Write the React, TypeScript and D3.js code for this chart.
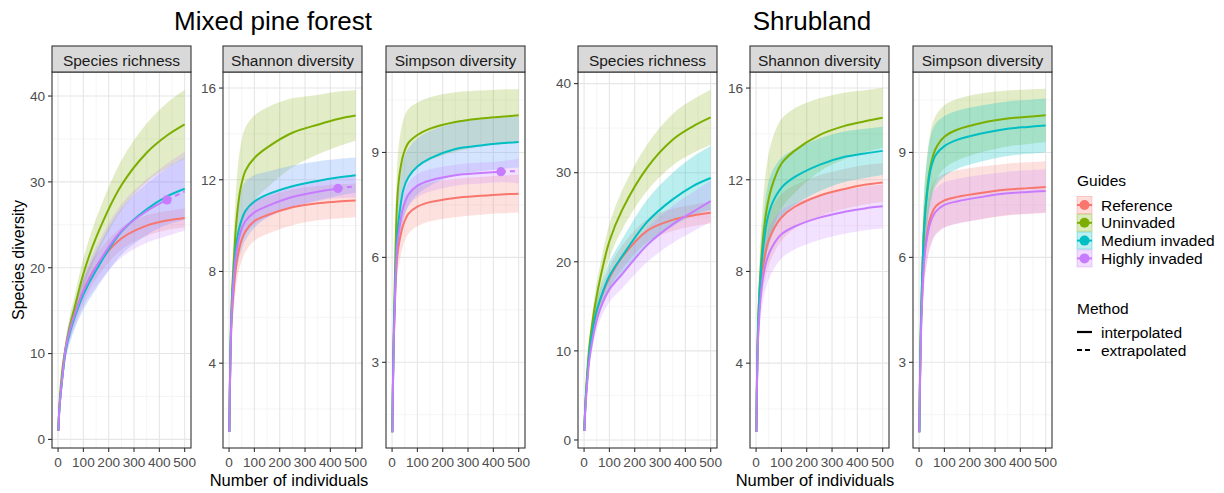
import React from "react";
import * as d3 from "d3";

// rarefaction sample sizes (number of individuals)
const sampleSizes = [1, 5, 10, 20, 30, 45, 65, 100, 150, 250, 350, 430, 500];
const guides = ["Reference", "Uninvaded", "Medium invaded", "Highly invaded"];
const guideColors = ["#F8766D", "#7CAE00", "#00BFC4", "#C77CFF"];
// ribbon fills differ slightly between the two habitats in the original figure
const pineRibbonColors = ["#F8766D", "#7CAE00", "#619CFF", "#C77CFF"];
const shrubRibbonColors = ["#F8766D", "#7CAE00", "#00BFC4", "#C77CFF"];
const methods = ["interpolated", "extrapolated"];
const indices = ["Species richness", "Shannon diversity", "Simpson diversity"];
const habitats = ["Mixed pine forest", "Shrubland"];

// observed sample size per guide, null when it lies beyond 500
const pineObserved = [null, null, null, 430];
const shrubObserved = [null, null, null, null];

// diversity estimates, one row per guide (Reference, Uninvaded, Medium, Highly)
const pineRichness = [
  [1, 3.5, 5.3, 8.2, 10.6, 12.6, 14.5, 17.3, 20.1, 23.4, 24.9, 25.5, 25.8],
  [1, 3.8, 6.0, 8.9, 10.7, 13.0, 15.3, 19.3, 23.5, 29.6, 33.4, 35.4, 36.7],
  [1, 3.4, 5.2, 8.0, 10.3, 12.3, 14.2, 16.9, 19.7, 24.2, 26.8, 28.3, 29.2],
  [1, 3.5, 5.3, 8.2, 10.6, 12.6, 14.5, 17.3, 20.1, 24.3, 26.6, 27.9, 28.9],
];
const pineRichnessCI = [
  [0, 0.3, 0.5, 0.7, 0.8, 1.0, 1.1, 1.3, 1.4, 1.3, 1.2, 1.1, 1.1],
  [0, 0.3, 0.5, 0.8, 1.0, 1.2, 1.4, 1.8, 2.2, 2.9, 3.4, 3.8, 4.0],
  [0, 0.3, 0.5, 0.8, 1.0, 1.2, 1.4, 1.8, 2.2, 2.7, 3.0, 3.3, 3.6],
  [0, 0.3, 0.5, 0.8, 1.0, 1.2, 1.4, 1.8, 2.3, 3.1, 3.7, 4.2, 4.6],
];
const pineShannon = [
  [1, 4.0, 5.8, 7.4, 8.4, 9.2, 9.75, 10.2, 10.45, 10.8, 10.98, 11.05, 11.1],
  [1, 4.3, 6.6, 8.7, 10.3, 11.6, 12.4, 12.95, 13.4, 14.05, 14.4, 14.65, 14.8],
  [1, 4.2, 6.3, 8.2, 9.3, 10.1, 10.65, 11.05, 11.35, 11.72, 11.95, 12.1, 12.2],
  [1, 4.1, 6.1, 7.9, 8.9, 9.7, 10.2, 10.58, 10.85, 11.25, 11.48, 11.62, 11.72],
];
const pineShannonCI = [
  [0, 0.5, 0.7, 0.85, 0.88, 0.9, 0.89, 0.86, 0.82, 0.78, 0.75, 0.74, 0.74],
  [0, 0.6, 1.0, 1.4, 1.65, 1.85, 1.9, 1.85, 1.75, 1.5, 1.3, 1.2, 1.1],
  [0, 0.5, 0.8, 1.1, 1.25, 1.3, 1.28, 1.15, 1.0, 0.9, 0.85, 0.8, 0.77],
  [0, 0.3, 0.4, 0.5, 0.53, 0.55, 0.55, 0.53, 0.5, 0.45, 0.42, 0.42, 0.5],
];
const pineSimpson = [
  [1, 3.0, 4.4, 6.0, 6.5, 6.95, 7.25, 7.45, 7.58, 7.7, 7.76, 7.8, 7.82],
  [1, 3.2, 5.0, 7.6, 8.4, 8.95, 9.28, 9.5, 9.68, 9.87, 9.97, 10.02, 10.06],
  [1, 3.1, 4.7, 6.6, 7.3, 7.95, 8.3, 8.6, 8.83, 9.1, 9.2, 9.26, 9.3],
  [1, 3.0, 4.5, 6.3, 6.9, 7.45, 7.8, 8.05, 8.2, 8.35, 8.41, 8.45, 8.47],
];
const pineSimpsonCI = [
  [0, 0.4, 0.55, 0.6, 0.6, 0.58, 0.57, 0.56, 0.55, 0.55, 0.54, 0.54, 0.54],
  [0, 0.5, 0.8, 1.0, 1.0, 1.0, 0.97, 0.93, 0.9, 0.85, 0.8, 0.78, 0.75],
  [0, 0.5, 0.7, 0.85, 0.85, 0.85, 0.82, 0.8, 0.78, 0.75, 0.74, 0.73, 0.73],
  [0, 0.3, 0.4, 0.4, 0.38, 0.35, 0.34, 0.33, 0.32, 0.3, 0.3, 0.3, 0.35],
];
const shrubRichness = [
  [1, 3.8, 6.0, 9.5, 11.6, 13.9, 15.8, 18.2, 20.5, 23.5, 24.7, 25.2, 25.5],
  [1, 4.0, 6.5, 10.3, 12.6, 15.4, 18.3, 22.3, 25.8, 30.6, 33.7, 35.2, 36.2],
  [1, 3.8, 6.0, 9.6, 11.7, 14.0, 15.9, 18.4, 20.6, 24.5, 27.0, 28.5, 29.4],
  [1, 3.5, 5.5, 8.8, 10.7, 12.9, 14.8, 16.9, 18.6, 21.9, 24.2, 25.6, 26.8],
];
const shrubRichnessCI = [
  [0, 0.3, 0.5, 0.7, 0.8, 0.95, 1.05, 1.2, 1.3, 1.3, 1.25, 1.2, 1.2],
  [0, 0.3, 0.6, 0.9, 1.1, 1.4, 1.6, 1.9, 2.2, 2.6, 2.9, 3.0, 3.1],
  [0, 0.3, 0.5, 0.8, 0.95, 1.15, 1.35, 1.6, 1.9, 2.5, 3.0, 3.3, 3.6],
  [0, 0.3, 0.5, 0.8, 0.9, 1.05, 1.2, 1.4, 1.6, 1.9, 2.1, 2.2, 2.3],
];
const shrubShannon = [
  [1, 4.0, 5.9, 7.6, 8.4, 9.2, 9.75, 10.35, 10.8, 11.3, 11.6, 11.78, 11.88],
  [1, 4.3, 6.4, 8.4, 9.7, 10.9, 11.8, 12.7, 13.25, 13.95, 14.35, 14.55, 14.7],
  [1, 4.2, 6.2, 8.1, 9.2, 10.3, 11.0, 11.65, 12.1, 12.65, 13.0, 13.15, 13.26],
  [1, 3.9, 5.6, 7.1, 7.9, 8.6, 9.1, 9.62, 9.95, 10.35, 10.6, 10.75, 10.84],
];
const shrubShannonCI = [
  [0, 0.5, 0.8, 1.0, 1.05, 1.1, 1.08, 1.02, 0.95, 0.9, 0.87, 0.86, 0.85],
  [0, 0.7, 1.1, 1.5, 1.75, 1.95, 2.0, 1.95, 1.85, 1.6, 1.45, 1.35, 1.3],
  [0, 0.6, 0.9, 1.2, 1.3, 1.4, 1.4, 1.3, 1.22, 1.15, 1.1, 1.07, 1.05],
  [0, 0.5, 0.8, 1.0, 1.05, 1.1, 1.1, 1.05, 1.0, 0.98, 0.96, 0.95, 0.95],
];
const shrubSimpson = [
  [1, 3.0, 4.5, 6.0, 6.6, 7.15, 7.45, 7.63, 7.73, 7.85, 7.94, 7.98, 8.01],
  [1, 3.2, 4.9, 6.9, 7.8, 8.6, 9.1, 9.45, 9.65, 9.85, 9.97, 10.02, 10.06],
  [1, 3.2, 4.9, 6.8, 7.7, 8.5, 8.92, 9.18, 9.36, 9.55, 9.68, 9.73, 9.77],
  [1, 3.0, 4.4, 5.9, 6.5, 7.0, 7.3, 7.5, 7.6, 7.73, 7.83, 7.87, 7.9],
];
const shrubSimpsonCI = [
  [0, 0.5, 0.7, 0.8, 0.8, 0.8, 0.78, 0.77, 0.76, 0.75, 0.74, 0.74, 0.74],
  [0, 0.5, 0.8, 1.0, 1.0, 0.98, 0.94, 0.9, 0.88, 0.84, 0.8, 0.78, 0.76],
  [0, 0.5, 0.8, 1.0, 0.98, 0.94, 0.9, 0.86, 0.83, 0.8, 0.78, 0.77, 0.77],
  [0, 0.45, 0.6, 0.7, 0.7, 0.7, 0.67, 0.65, 0.64, 0.63, 0.62, 0.62, 0.62],
];

const xTicks = [0, 100, 200, 300, 400, 500];
const richnessTicks = [0, 10, 20, 30, 40];
const shannonTicks = [4, 8, 12, 16];
const simpsonTicks = [3, 6, 9];

const FONT = "Liberation Sans, Arial, Helvetica, sans-serif";
const W = 1224;
const H = 493;
const panelTop = 72;
const panelBottom = 448;
const stripTop = 46;
const panelW = 139;
const panelLefts = [52, 223, 386, 578, 750, 913];

const panels = [
  { left: panelLefts[0], title: indices[0], mean: pineRichness, ci: pineRichnessCI, obs: pineObserved, fills: pineRibbonColors, domain: [-1, 42.8], ticks: richnessTicks },
  { left: panelLefts[1], title: indices[1], mean: pineShannon, ci: pineShannonCI, obs: pineObserved, fills: pineRibbonColors, domain: [0.3, 16.7], ticks: shannonTicks },
  { left: panelLefts[2], title: indices[2], mean: pineSimpson, ci: pineSimpsonCI, obs: pineObserved, fills: pineRibbonColors, domain: [0.55, 11.3], ticks: simpsonTicks },
  { left: panelLefts[3], title: indices[0], mean: shrubRichness, ci: shrubRichnessCI, obs: shrubObserved, fills: shrubRibbonColors, domain: [-0.9, 41.3], ticks: richnessTicks },
  { left: panelLefts[4], title: indices[1], mean: shrubShannon, ci: shrubShannonCI, obs: shrubObserved, fills: shrubRibbonColors, domain: [0.3, 16.7], ticks: shannonTicks },
  { left: panelLefts[5], title: indices[2], mean: shrubSimpson, ci: shrubSimpsonCI, obs: shrubObserved, fills: shrubRibbonColors, domain: [0.55, 11.3], ticks: simpsonTicks },
];

function minorTicks(ticks: number[], domain: number[]) {
  const step = ticks[1] - ticks[0];
  const out = ticks.map((t) => t - step / 2);
  out.push(ticks[ticks.length - 1] + step / 2);
  return out.filter((t) => t > domain[0] && t < domain[1]);
}

const smooth = d3.curveCatmullRom.alpha(0.5);

function Panel({ p, idx }: { p: any; idx: number }) {
  const x = d3.scaleLinear().domain([-24, 525]).range([p.left, p.left + panelW]);
  const y = d3.scaleLinear().domain(p.domain).range([panelBottom, panelTop]);
  const xMinor = minorTicks(xTicks, [-24, 525]);
  const yMinor = minorTicks(p.ticks, p.domain);

  const line = d3
    .line<[number, number]>()
    .x((d) => x(d[0]))
    .y((d) => y(d[1]))
    .curve(smooth);
  const area = d3
    .area<[number, number, number]>()
    .x((d) => x(d[0]))
    .y0((d) => y(d[1] - d[2]))
    .y1((d) => y(d[1] + d[2]))
    .curve(smooth);

  const clipId = `clip-${idx}`;

  return (
    <g>
      <defs>
        <clipPath id={clipId}>
          <rect x={p.left} y={panelTop} width={panelW} height={panelBottom - panelTop} />
        </clipPath>
      </defs>
      <rect x={p.left} y={panelTop} width={panelW} height={panelBottom - panelTop} fill="white" />
      {/* grid */}
      {yMinor.map((t) => (
        <line key={"ym" + t} x1={p.left} x2={p.left + panelW} y1={y(t)} y2={y(t)} stroke="#F2F2F2" strokeWidth={0.8} />
      ))}
      {xMinor.map((t) => (
        <line key={"xm" + t} x1={x(t)} x2={x(t)} y1={panelTop} y2={panelBottom} stroke="#F2F2F2" strokeWidth={0.8} />
      ))}
      {p.ticks.map((t: number) => (
        <line key={"yg" + t} x1={p.left} x2={p.left + panelW} y1={y(t)} y2={y(t)} stroke="#E6E6E6" strokeWidth={1.1} />
      ))}
      {xTicks.map((t) => (
        <line key={"xg" + t} x1={x(t)} x2={x(t)} y1={panelTop} y2={panelBottom} stroke="#E6E6E6" strokeWidth={1.1} />
      ))}
      <g clipPath={`url(#${clipId})`}>
        {/* ribbons */}
        {guides.map((g, gi) => {
          const pts = sampleSizes.map((n, i) => [n, p.mean[gi][i], p.ci[gi][i]] as [number, number, number]);
          return <path key={"rb" + g} d={area(pts) || ""} fill={p.fills[gi]} fillOpacity={gi === 2 ? 0.27 : 0.22} />;
        })}
        {/* curves */}
        {guides.map((g, gi) => {
          const pts = sampleSizes.map((n, i) => [n, p.mean[gi][i]] as [number, number]);
          const obs = p.obs[gi];
          const solid = obs == null ? pts : pts.filter((d) => d[0] <= obs);
          const dashed = obs == null ? [] : pts.filter((d) => d[0] >= obs);
          return (
            <g key={"ln" + g}>
              <path d={line(solid) || ""} fill="none" stroke={guideColors[gi]} strokeWidth={2} />
              {dashed.length > 1 && (
                <path d={line(dashed) || ""} fill="none" stroke={guideColors[gi]} strokeWidth={2} strokeDasharray="5,4" />
              )}
            </g>
          );
        })}
        {guides.map((g, gi) => {
          const obs = p.obs[gi];
          if (obs == null) return null;
          const i = sampleSizes.indexOf(obs);
          return <circle key={"pt" + g} cx={x(obs)} cy={y(p.mean[gi][i])} r={4.6} fill={guideColors[gi]} />;
        })}
      </g>
      <rect x={p.left} y={panelTop} width={panelW} height={panelBottom - panelTop} fill="none" stroke="#333333" strokeWidth={1.1} />
      {/* strip */}
      <rect x={p.left} y={stripTop} width={panelW} height={panelTop - stripTop} fill="#D9D9D9" stroke="#333333" strokeWidth={1.1} />
      <text x={p.left + panelW / 2} y={66} textAnchor="middle" fontSize={15.5} fill="#1A1A1A" fontFamily={FONT}>
        {p.title}
      </text>
      {/* y axis */}
      {p.ticks.map((t: number) => (
        <g key={"yt" + t}>
          <line x1={p.left - 4} x2={p.left} y1={y(t)} y2={y(t)} stroke="#333333" strokeWidth={1.1} />
          <text x={p.left - 7} y={y(t) + 4.8} textAnchor="end" fontSize={13.6} fill="#4D4D4D" fontFamily={FONT}>
            {t}
          </text>
        </g>
      ))}
      {/* x axis */}
      {xTicks.map((t) => (
        <g key={"xt" + t}>
          <line x1={x(t)} x2={x(t)} y1={panelBottom} y2={panelBottom + 4} stroke="#333333" strokeWidth={1.1} />
          <text x={x(t)} y={467} textAnchor="middle" fontSize={13.6} fill="#4D4D4D" fontFamily={FONT}>
            {t}
          </text>
        </g>
      ))}
    </g>
  );
}

function Legend() {
  const lx = 1077;
  const keyW = 15;
  const rowH = 17.8;
  const firstRow = 205;
  return (
    <g fontFamily={FONT}>
      <text x={lx} y={186} fontSize={15.5} fill="#000">Guides</text>
      {guides.map((g, gi) => {
        const cy = firstRow + gi * rowH;
        return (
          <g key={g}>
            <rect x={lx} y={cy - keyW / 2 - 1} width={keyW} height={keyW + 2} fill={guideColors[gi]} fillOpacity={0.25} stroke={guideColors[gi]} strokeOpacity={0.35} strokeWidth={1} />
            <line x1={lx} x2={lx + keyW} y1={cy} y2={cy} stroke={guideColors[gi]} strokeWidth={2} />
            <circle cx={lx + keyW / 2} cy={cy} r={5} fill={guideColors[gi]} />
            <text x={lx + 24} y={cy + 5.5} fontSize={15.5} fill="#000">{g}</text>
          </g>
        );
      })}
      <text x={lx} y={314} fontSize={15.5} fill="#000">Method</text>
      {methods.map((m, mi) => {
        const cy = 332 + mi * 18;
        return (
          <g key={m}>
            <line x1={lx} x2={lx + keyW} y1={cy} y2={cy} stroke="#000" strokeWidth={2.2} strokeDasharray={mi === 0 ? undefined : "5,3"} />
            <text x={lx + 24} y={cy + 5.5} fontSize={15.5} fill="#000">{m}</text>
          </g>
        );
      })}
    </g>
  );
}

export default function App() {
  return (
    <svg width={W} height={H} style={{ position: "absolute", left: 0, top: 0, background: "white" }}>
      <rect width={W} height={H} fill="white" />
      <text x={273} y={30} textAnchor="middle" fontSize={26} fill="#000" fontFamily={FONT}>{habitats[0]}</text>
      <text x={812} y={30} textAnchor="middle" fontSize={26} fill="#000" fontFamily={FONT}>{habitats[1]}</text>
      {panels.map((p, i) => (
        <Panel key={i} p={p} idx={i} />
      ))}
      <text transform="translate(24,260) rotate(-90)" textAnchor="middle" fontSize={16} fill="#000" fontFamily={FONT}>
        Species diversity
      </text>
      <text x={289} y={486} textAnchor="middle" fontSize={16.5} fill="#000" fontFamily={FONT}>Number of individuals</text>
      <text x={815} y={486} textAnchor="middle" fontSize={16.5} fill="#000" fontFamily={FONT}>Number of individuals</text>
      <Legend />
    </svg>
  );
}
